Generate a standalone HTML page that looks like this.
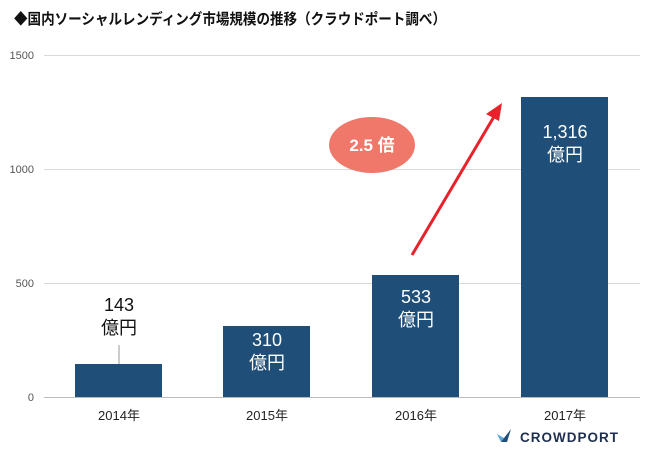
<!DOCTYPE html>
<html><head><meta charset="utf-8"><style>
body{margin:0;background:#fff;width:650px;height:455px;overflow:hidden}
</style></head><body>
<svg width="650" height="455" xmlns="http://www.w3.org/2000/svg" font-family="Liberation Sans, Noto Sans CJK JP, sans-serif">
<text x="14" y="24" font-size="15" font-weight="bold" fill="#111" font-family="Noto Sans CJK JP, sans-serif" textLength="432" lengthAdjust="spacingAndGlyphs">◆国内ソーシャルレンディング市場規模の推移（クラウドポート調べ）</text>
<g stroke="#d9d9d9" stroke-width="1">
<line x1="44" y1="55.5" x2="640" y2="55.5"/>
<line x1="44" y1="169.5" x2="640" y2="169.5"/>
<line x1="44" y1="283.5" x2="640" y2="283.5"/>
</g>
<line x1="44" y1="397.5" x2="640" y2="397.5" stroke="#bbb"/>
<g font-size="11" fill="#555" text-anchor="end">
<text x="34" y="59">1500</text><text x="34" y="173">1000</text><text x="34" y="287">500</text><text x="34" y="401">0</text>
</g>
<g fill="#1f4e79">
<rect x="75" y="364" width="87" height="33"/>
<rect x="223" y="326" width="87" height="71"/>
<rect x="372" y="275" width="87" height="122"/>
<rect x="521" y="97" width="87" height="300"/>
</g>
<line x1="119" y1="345" x2="119" y2="364" stroke="#999"/>
<g font-size="18" text-anchor="middle" font-family="Liberation Sans Narrow, Liberation Sans, Noto Sans CJK JP, sans-serif">
<text x="119" y="311" fill="#111">143</text><text x="119" y="334" fill="#111">億円</text>
<text x="267" y="346" fill="#fff">310</text><text x="267" y="369" fill="#fff">億円</text>
<text x="416" y="303" fill="#fff">533</text><text x="416" y="326" fill="#fff">億円</text>
<text x="565" y="138" fill="#fff">1,316</text><text x="565" y="161" fill="#fff">億円</text>
</g>
<g font-size="13" fill="#222" text-anchor="middle">
<text x="119" y="420">2014年</text><text x="267" y="420">2015年</text><text x="416" y="420">2016年</text><text x="565" y="420">2017年</text>
</g>
<ellipse cx="372" cy="145" rx="43" ry="28" fill="#f0786a"/>
<text x="372" y="151" font-size="17" font-weight="bold" fill="#fff" text-anchor="middle">2.5 倍</text>
<line x1="412" y1="255" x2="495" y2="115" stroke="#e8222a" stroke-width="3"/>
<polygon points="502,103 486,114 499,121" fill="#e8222a"/>
<g transform="translate(497,432)">
<polygon points="0,2 7,6 4,10" fill="#5aa7d8"/>
<polygon points="4,10 7,6 14,-3 10,10" fill="#1f4e79"/>
</g>
<text x="520" y="442" font-size="13.5" font-weight="bold" fill="#1f2f4f" letter-spacing="1">CROWDPORT</text>
</svg>
</body></html>
